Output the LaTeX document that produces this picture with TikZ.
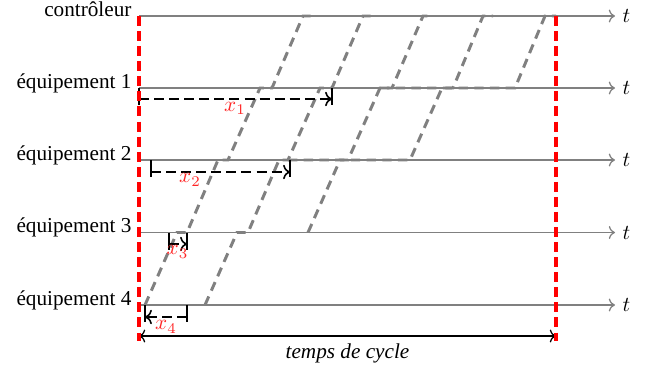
\documentclass[tikz,border=0pt]{standalone}
\usepackage{fontspec}
\setmainfont{Liberation Serif}
\usetikzlibrary{arrows.meta}

\begin{document}
\begin{tikzpicture}[x=0.471pt, y=-0.471pt,
	axe/.style={gray, semithick, -{To}},
	trame/.style={gray, line width=1.4pt, dash pattern=on 4.4pt off 3pt},
	limite/.style={red, line width=1.9pt, dash pattern=on 4.7pt off 2.4pt},
	mesure/.style={black, line width=0.75pt, dash pattern=on 4.7pt off 2.4pt, -{To}},
	barre/.style={black, line width=0.75pt},
	xlbl/.style={text=red!85}]
	\useasboundingbox (0,0) rectangle (652,368);
	\coordinate (C) at (139,16);
	\coordinate (E1) at (139,88);
	\coordinate (E2) at (139,160);
	\coordinate (E3) at (139,232.5);
	\coordinate (E4) at (139,305);
	\coordinate (Cf) at (615,16);
	\coordinate (E1f) at (615,88);
	\coordinate (E2f) at (615,160);
	\coordinate (E3f) at (615,232.5);
	\coordinate (E4f) at (615,305);
	\node[anchor=base east] (LC) at (C) {contrôleur};
	\node[anchor=base east] (L1) at (E1) {équipement 1};
	\node[anchor=base east] (L2) at (E2) {équipement 2};
	\node[anchor=base east] (L3) at (E3) {équipement 3};
	\node[anchor=base east] (L4) at (E4) {équipement 4};
	\draw[axe] (C) -- (Cf) node[right, text=black] (TC) {$t$};
	\draw[axe] (E1) -- (E1f) node[right, text=black] (T1) {$t$};
	\draw[axe] (E2) -- (E2f) node[right, text=black] (T2) {$t$};
	\draw[axe] (E3) -- (E3f) node[right, text=black] (T3) {$t$};
	\draw[axe] (E4) -- (E4f) node[right, text=black] (T4) {$t$};
	\draw[trame] (145,305) -- (177,232.5) -- (187,232.5) -- (218,160) -- (228,160) -- (260,88) -- (272,88) -- (303,16) -- (313,16);
	\draw[trame] (205,305) -- (237,232.5) -- (248,232.5) -- (279,160) -- (288,160) -- (320,88) -- (332,88) -- (363,16) -- (373,16);
	\draw[trame] (308,232.5) -- (340,160) -- (348,160) -- (380,88) -- (392,88) -- (423,16) -- (433,16);
	\draw[trame] (288,160) -- (410,160) -- (442,88) -- (453,88) -- (483,16) -- (493,16);
	\draw[trame] (380,88) -- (515,88) -- (545,16) -- (556,16);
	\draw[barre] (139,88) -- (139,105);
	\draw[barre] (332,88) -- (332,105);
	\draw[mesure] (139,99) -- (332,99);
	\node[xlbl] (X1) at (235,108.5) {$x_1$};
	\draw[barre] (151,160) -- (151,177);
	\draw[barre] (290,160) -- (290,177);
	\draw[mesure] (151,172) -- (290,172);
	\node[xlbl] (X2) at (190,180) {$x_2$};
	\draw[barre] (169,232.5) -- (169,249.5);
	\draw[barre] (187,232.5) -- (187,249.5);
	\draw[mesure] (169,244) -- (187,244);
	\node[xlbl] (X3) at (177.5,252) {$x_3$};
	\draw[barre] (145,305) -- (145,322);
	\draw[barre] (187,305) -- (187,322);
	\draw[mesure] (187,317) -- (145,317);
	\node[xlbl] (X4) at (166,327) {$x_4$};
	\coordinate (D0) at (139,336);
	\coordinate (D1) at (556,336);
	\draw[black, semithick, {To}-{To}] (D0) -- node[below] (TPS) {\textit{temps de cycle}} (D1);
	\draw[limite] (139,16) -- (139,341);
	\draw[limite] (556,16) -- (556,341);
\end{tikzpicture}
\end{document}
